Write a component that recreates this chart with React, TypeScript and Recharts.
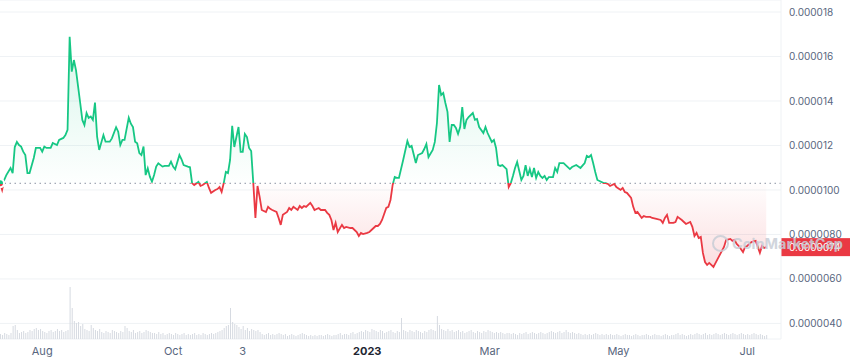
import React from 'react';
import { ComposedChart, Line, Area, Bar, XAxis, YAxis, CartesianGrid, ReferenceLine } from 'recharts';

// prices in units of 1e-6 USD; day 0 = 12 Jul 2022
const baselinePrice = 10.3;
const lastPrice = 7.43;
const lastPriceLabel = '0.0000074';

const pricePoints: [number, number][] = [
  [0,10.30],[1,10.00],[2,10.45],[3,10.67],[5,10.99],[6,10.76],[7,11.93],[8,12.16],[9,12.02],[10,11.95],
  [11,11.72],[12,11.57],[13,10.76],[14,10.76],[16,11.44],[17,11.89],[19,11.89],[20,11.72],[21,11.95],[22,11.89],
  [24,11.89],[25,12.11],[27,12.02],[28,12.25],[30,12.34],[31,12.47],[32,12.70],[33,16.89],[34,15.32],[35,15.84],
  [36,15.39],[38,13.91],[39,13.15],[40,12.92],[41,13.46],[42,13.24],[43,13.30],[44,13.15],[45,13.93],[46,12.40],
  [47,11.80],[49,12.47],[50,12.17],[52,12.17],[53,12.32],[55,12.82],[56,12.62],[57,12.02],[58,12.25],[59,12.25],
  [61,13.25],[62,12.98],[63,12.83],[64,12.17],[65,12.10],[66,11.66],[67,11.57],[68,11.95],[69,10.67],[70,10.97],
  [71,10.60],[72,10.37],[73,10.67],[74,11.05],[75,11.20],[77,11.05],[78,11.08],[80,11.08],[81,11.27],[82,11.05],
  [83,10.93],[85,11.57],[86,11.38],[87,11.12],[89,11.05],[90,11.02],
  [91,10.31],[92,10.22],[94,10.36],[95,10.18],[96,10.22],[98,10.36],[99,10.09],[100,9.87],[102,10.00],[103,10.04],
  [104,10.13],[105,9.91],[106,10.31],[107,10.81],[108,10.76],[109,11.35],[110,12.88],[111,11.93],[112,12.38],[113,12.83],
  [114,11.71],[115,11.71],[116,12.52],[117,12.38],[118,11.89],[119,11.75],[120,10.31],[121,8.74],[122,10.18],[123,9.69],
  [124,9.10],[126,9.01],[127,9.24],[128,9.15],[129,9.10],[131,9.01],[132,8.74],[133,8.43],[134,8.88],[136,9.01],
  [137,9.19],[138,9.10],[139,9.24],[141,9.10],[142,9.28],[143,9.19],[144,9.28],[145,9.24],[147,9.42],[148,9.28],
  [149,9.10],[151,9.19],[152,9.10],[154,9.10],[155,8.97],[156,8.88],[157,8.65],[158,8.20],[159,8.52],[160,8.11],
  [162,8.43],[163,8.29],[164,8.34],[166,8.29],[167,8.29],[169,8.11],[170,7.93],[171,8.07],[172,8.02],[174,8.07],
  [175,8.11],[177,8.29],[178,8.38],[179,8.38],[180,8.47],[181,8.65],[183,9.19],[184,9.24],[185,9.55],[186,10.22],
  [187,10.58],[188,10.54],[189,10.54],[191,11.35],[193,12.20],[194,11.93],[195,11.98],[197,11.21],[198,11.57],[200,11.66],
  [201,11.84],[202,12.07],[203,11.48],[205,11.80],[206,12.16],[207,13.01],[208,14.72],[209,14.27],[210,14.36],[211,13.91],
  [212,13.51],[213,12.16],[214,12.92],[215,12.92],[216,12.79],[217,12.52],[218,12.83],[219,13.73],[220,12.74],[221,13.15],
  [222,13.28],[224,13.46],[225,13.15],[226,13.19],[227,12.83],[229,12.56],[230,12.83],[231,12.56],[233,12.16],[234,12.25],
  [235,11.89],[236,11.12],[237,11.08],[238,11.12],[240,10.94],[241,10.13],[242,10.31],[243,10.63],[244,10.99],[245,11.26],
  [247,10.45],[248,10.63],[249,11.12],[250,10.63],[251,10.94],[252,10.58],[253,10.99],[254,10.54],[255,10.81],[256,10.63],
  [257,10.54],[258,10.63],[259,10.45],[260,10.58],[262,10.58],[263,10.99],[264,10.81],[265,11.21],[267,11.21],[269,11.03],
  [270,10.94],[271,11.03],[273,11.12],[275,10.99],[277,11.21],[278,11.53],[279,11.48],[280,11.57],[281,11.21],[282,10.81],
  [283,10.45],[285,10.36],[286,10.31],[287,10.31],[288,10.27],[289,10.18],[291,10.27],[292,10.13],[294,10.00],[295,10.09],
  [296,9.91],[297,9.87],[299,9.64],[300,9.24],[301,8.97],[302,9.01],[304,8.74],[305,8.83],[306,8.79],[308,8.79],
  [309,8.74],[311,8.70],[313,8.65],[314,8.52],[315,8.74],[316,8.88],[317,8.52],[319,8.52],[320,8.56],[321,8.79],
  [323,8.65],[324,8.56],[325,8.47],[327,8.56],[328,8.34],[329,7.93],[330,8.07],[331,7.84],[332,7.89],[333,7.17],
  [334,6.76],[335,6.63],[336,6.72],[338,6.54],[339,6.72],[340,6.90],[341,7.08],[342,7.26],[343,7.44],[344,7.75],
  [346,7.80],[347,7.71],[348,7.75],[349,7.57],[350,7.48],[352,7.21],[353,7.44],[354,7.48],[356,7.66],[358,7.71],
  [359,7.44],[360,7.17],[361,7.48],[362,7.39],[363,7.43],
];

// daily volume (relative units), day 0..363
const volumes: number[] = [
  5,4,6,5,4,6, 13,14,9, 6,7,8,6,7,9,8, 10,11,9,10,8,
  7,6,8,9,7,8,10,8,9,7,8, 9, 52, 31, 18,16,17,13,15,
  10,9,8,14,11,9,8,10, 7,6,8,7,6,9,8,7,6,8,7, 13,11,
  8,7,9,6,7,8,6,7,9,8,7,6,
  6,5,7,5,6,4,5,6,5,4,6,5,4,5,6,4,5,4,5,6,4,5,4,6,5,4,5,6,5,6,7,8,9,
  11,13,14,31,17,15,14,
  12,10,13,9,11,8,10,9,8,9,7,
  5,4,5,6,4,5,4,5,6,5,4,5,3,4,5,4,3,4,5,6,5,4,3,4,3,4,3,4,4,3,4,5,4,3,4,4,5,6,4,5,5,4,6,7,5,6,7,
  8,7,9,8,7,10,9,8,7,9,8,6,7,8,9,7,6,8,7,21,
  9,8,7,9,8,7,9,8,7,6,8,7,9,10,9,8,
  23, 14,
  10,9,8,10,8,9,7,8,9,7,8,6,7,8,9,7,6,8,7,6,8,7,9,8,7,6,7,6,7,6,5,6,
  6,5,6,5,4,6,5,6,7,5,6,7,6,5,6,7,6,5,6,7,
  8,7,6,7,8,6,7,9,7,6,7,6,5,6,5,4,5,4,5,4,5,6,5,4,5,4,5,4,5,4,
  4,5,4,3,4,5,4,4,3,4,5,4,3,4,4,5,4,3,4,5,4,4,3,4,5,4,3,4,4,5,6,4,5,4,3,4,5,4,5,6,
  5,4,5,6,4,5,4,5,6,5,4,5,6,5,4,5,6,5,4,5,6,5,4,5,4,5,6,5,4,5,4,3,4,
];

const xTicks = [20, 82, 115, 174, 232, 293, 354];
const xTickLabels = ['Aug', 'Oct', '3', '2023', 'Mar', 'May', 'Jul'];
const yTicks = [4, 6, 8, 10, 12, 14, 16, 18];
const yTickLabels = ['0.0000040', '0.0000060', '0.0000080', '0.0000100', '0.000012', '0.000014', '0.000016', '0.000018'];

const GREEN = '#16c784';
const RED = '#ea3943';
const FONT = 'Inter, "Liberation Sans", Arial, sans-serif';

const priceMap = new Map<number, number>(pricePoints);
const data = volumes.map((v, day) => ({
  day,
  volume: v,
  price: priceMap.has(day) ? (priceMap.get(day) as number) : null,
}));
const pVals = pricePoints.map((p) => p[1]);
const pMax = Math.max(...pVals);
const pMin = Math.min(...pVals);
const splitOffset = (pMax - baselinePrice) / (pMax - pMin);

const XTick = (props: any) => {
  const { x, y, payload } = props;
  const i = xTicks.indexOf(payload.value);
  const label = xTickLabels[i] ?? '';
  const bold = label === '2023';
  return (
    <text
      x={x}
      y={y + 4}
      textAnchor="middle"
      dominantBaseline="central"
      fontSize={11}
      fontFamily={FONT}
      fontWeight={bold ? 700 : 400}
      fill={bold ? '#222531' : '#58667e'}
    >
      {label}
    </text>
  );
};

const PriceTag = (props: any) => {
  const vb = props.viewBox || {};
  const x = (vb.x ?? 0) + (vb.width ?? 0);
  const y = vb.y ?? 0;
  return (
    <g>
      <rect x={x} y={y - 9} width={69} height={18} fill={RED} />
      <text x={x + 8} y={y} dominantBaseline="central" fontSize={10} fontFamily={FONT} fill="#ffffff">
        {lastPriceLabel}
      </text>
    </g>
  );
};

export default function App() {
  return (
    <div style={{ position: 'absolute', left: 0, top: 0, width: 850, height: 362, background: '#ffffff' }}>
      <ComposedChart width={850} height={362} data={data} margin={{ top: 0, right: 0, bottom: 0, left: 0 }}>
        <defs>
          <linearGradient id="lineStroke" x1="0" y1="0" x2="0" y2="1">
            <stop offset={0} stopColor={GREEN} />
            <stop offset={splitOffset} stopColor={GREEN} />
            <stop offset={splitOffset} stopColor={RED} />
            <stop offset={1} stopColor={RED} />
          </linearGradient>
          <linearGradient id="areaFill" x1="0" y1="0" x2="0" y2="1">
            <stop offset={0} stopColor={GREEN} stopOpacity={0.28} />
            <stop offset={splitOffset} stopColor={GREEN} stopOpacity={0.01} />
            <stop offset={splitOffset} stopColor={RED} stopOpacity={0.01} />
            <stop offset={1} stopColor={RED} stopOpacity={0.28} />
          </linearGradient>
        </defs>
        <CartesianGrid vertical={false} stroke="#eff2f5" yAxisId="price" />
        <XAxis
          dataKey="day"
          type="number"
          domain={[0, 370]}
          ticks={xTicks}
          tick={<XTick />}
          axisLine={false}
          tickLine={false}
          height={23}
          interval={0}
          allowDataOverflow
        />
        <YAxis
          yAxisId="price"
          orientation="right"
          width={69}
          domain={[3.3, 18.54]}
          ticks={yTicks}
          allowDataOverflow
          interval={0}
          tickLine={false}
          axisLine={{ stroke: '#eff2f5' }}
          tickFormatter={(v: number) => yTickLabels[yTicks.indexOf(v)] ?? ''}
          tick={{ fontSize: 10, fill: '#58667e', fontFamily: FONT, textAnchor: 'start' }}
        />
        <YAxis yAxisId="vol" hide domain={[0, 339]} allowDataOverflow />
        <Bar yAxisId="vol" dataKey="volume" fill="#d6dae1" barSize={1} isAnimationActive={false} />
        <Area
          yAxisId="price"
          type="linear"
          dataKey="price"
          baseValue={baselinePrice}
          stroke="none"
          fill="url(#areaFill)"
          connectNulls
          isAnimationActive={false}
        />
        <ReferenceLine yAxisId="price" y={baselinePrice} stroke="#8a93a3" strokeDasharray="1.5 3.5" strokeWidth={1} />
        <Line
          yAxisId="price"
          type="linear"
          dataKey="price"
          stroke="url(#lineStroke)"
          strokeWidth={1.8}
          dot={false}
          connectNulls
          isAnimationActive={false}
        />
        <ReferenceLine yAxisId="price" y={lastPrice} stroke="none" ifOverflow="visible" label={PriceTag} />
      </ComposedChart>
      <div
        style={{
          position: 'absolute',
          left: 712,
          top: 235,
          display: 'flex',
          alignItems: 'center',
          gap: 3,
          color: '#c9ced7',
          opacity: 0.85,
          fontFamily: FONT,
          fontWeight: 700,
          fontSize: 14.5,
          pointerEvents: 'none',
          whiteSpace: 'nowrap',
        }}
      >
        <span
          style={{
            width: 13,
            height: 13,
            borderRadius: '50%',
            border: '2px solid #c9ced7',
            display: 'inline-block',
          }}
        />
        <span>CoinMarketCap</span>
      </div>
    </div>
  );
}
